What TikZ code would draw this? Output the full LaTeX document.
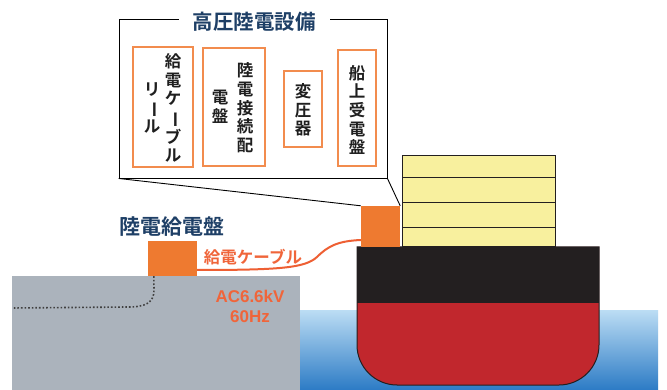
\documentclass[tikz,border=0pt]{standalone}
\usepackage{fontspec}
\usepackage{graphicx}
\setmainfont{Liberation Sans}
\newfontfamily\jp{Noto Sans CJK JP}[BoldFont={Noto Sans CJK JP Bold}]
\definecolor{navy}{HTML}{1E3F66}
\definecolor{boxorange}{HTML}{EE7A30}
\definecolor{frameorange}{HTML}{F28C4E}
\definecolor{cablered}{HTML}{EE5F33}
\definecolor{labelred}{HTML}{F0653A}
\definecolor{hullblack}{HTML}{231F20}
\definecolor{hullred}{HTML}{C1272D}
\definecolor{deckyellow}{HTML}{F8F09E}
\definecolor{landgray}{HTML}{ABB3BC}
\definecolor{seatop}{HTML}{BCDDF4}
\definecolor{seabottom}{HTML}{2C7BC5}
% vertical long-vowel mark for tategaki columns
\newcommand\tatebar{\rotatebox[origin=c]{-90}{ー}}
\tikzset{
  unitbox/.style={draw=frameorange, line width=2.2pt, fill=white},
  vcol/.style={align=center, inner sep=0pt, text=black!88,
    font=\jp\bfseries\fontsize{16.5}{18.7}\selectfont},
  headline/.style={text=navy, font=\jp\bfseries\fontsize{20.5}{24}\selectfont},
  panel/.style={fill=boxorange, draw=none},
  callline/.style={draw=black, line width=0.9pt},
}
\begin{document}
\begin{tikzpicture}[x=1pt,y=-1pt]
\useasboundingbox (0,0) rectangle (667,390);
\fill[white] (0,0) rectangle (667,390);

% sea and quay
\shade[top color=seatop, bottom color=seabottom] (300,310) rectangle (658,390);
\fill[landgray] (12,276) rectangle (300,390);

% hull
\path[fill=hullred] (357,247) -- (357,345) .. controls (357,367) and (375,385) .. (397,385)
  -- (559,385) .. controls (581,385) and (599,367) .. (599,345) -- (599,247) -- cycle;
\fill[hullblack] (357,247) rectangle (599,303);
\draw[hullblack, line width=1pt] (357,247) -- (357,345) .. controls (357,367) and (375,385) .. (397,385)
  -- (559,385) .. controls (581,385) and (599,367) .. (599,345) -- (599,247) -- cycle;

% superstructure
\draw[fill=deckyellow, draw=hullblack, line width=1pt] (402,156) rectangle (555,247);
\draw[hullblack, line width=1pt] (402,178) -- (555,178) (402,203) -- (555,203) (402,228) -- (555,228);

% power panels
\node[panel, minimum width=39pt, minimum height=41pt] (shipbox) at (380.5,226.5) {};
\node[panel, minimum width=49pt, minimum height=35pt] (landbox) at (172.5,258.5) {};

% callout frame
\node[callline, minimum width=268pt, minimum height=159pt, inner sep=0pt] (callout) at (253,98.5) {};
\draw[callline] (callout.south west) -- (shipbox.north west);
\draw[callline] (callout.south east) -- (shipbox.north east);
\node[headline, fill=white, inner xsep=14pt, inner ysep=2pt] (title) at (254,22) {高圧陸電設備};

% equipment inside the callout
\node[unitbox, minimum width=60pt, minimum height=120pt] (reel) at (163,107) {};
\node[vcol] (reelA) at (173,108) {給\\電\\ケ\\\tatebar\\ブ\\ル};
\node[vcol] (reelB) at (152,108) {リ\\\tatebar\\ル};

\node[unitbox, minimum width=62pt, minimum height=118pt] (conn) at (234,107) {};
\node[vcol] (connA) at (245,108) {陸\\電\\接\\続\\配};
\node[vcol] (connB) at (220,107) {電\\盤};

\node[unitbox, minimum width=38pt, minimum height=76pt] (trans) at (303,109) {};
\node[vcol] (transA) at (303,110) {変\\圧\\器};

\node[unitbox, minimum width=38pt, minimum height=116pt] (recv) at (357,108) {};
\node[vcol] (recvA) at (357,110) {船\\上\\受\\電\\盤};

% shore side
\node[headline, font=\jp\bfseries\fontsize{21}{24}\selectfont] (landlabel) at (172,227) {陸電給電盤};
\draw[cablered, line width=2pt] ([yshift=-11.5pt]landbox.east)
  .. controls (280,270) and (305,268) .. (317,257)
  .. controls (328,246) and (338,241) .. ([yshift=-13.5pt]shipbox.west);
\node[text=labelred, font=\jp\bfseries\fontsize{16.5}{18}\selectfont] (cablelabel) at (253,257) {給電ケーブル};
\node[text=labelred, font=\bfseries\fontsize{17}{19}\selectfont, align=center] (spec) at (250,306)
  {AC6.6kV\\[1pt]60Hz};
\draw[black!75, line width=1.6pt, dotted] ([xshift=6pt]landbox.south west) -- (154,290)
  .. controls (154,303) and (145,307) .. (128,307) -- (12,308);
\end{tikzpicture}
\end{document}
